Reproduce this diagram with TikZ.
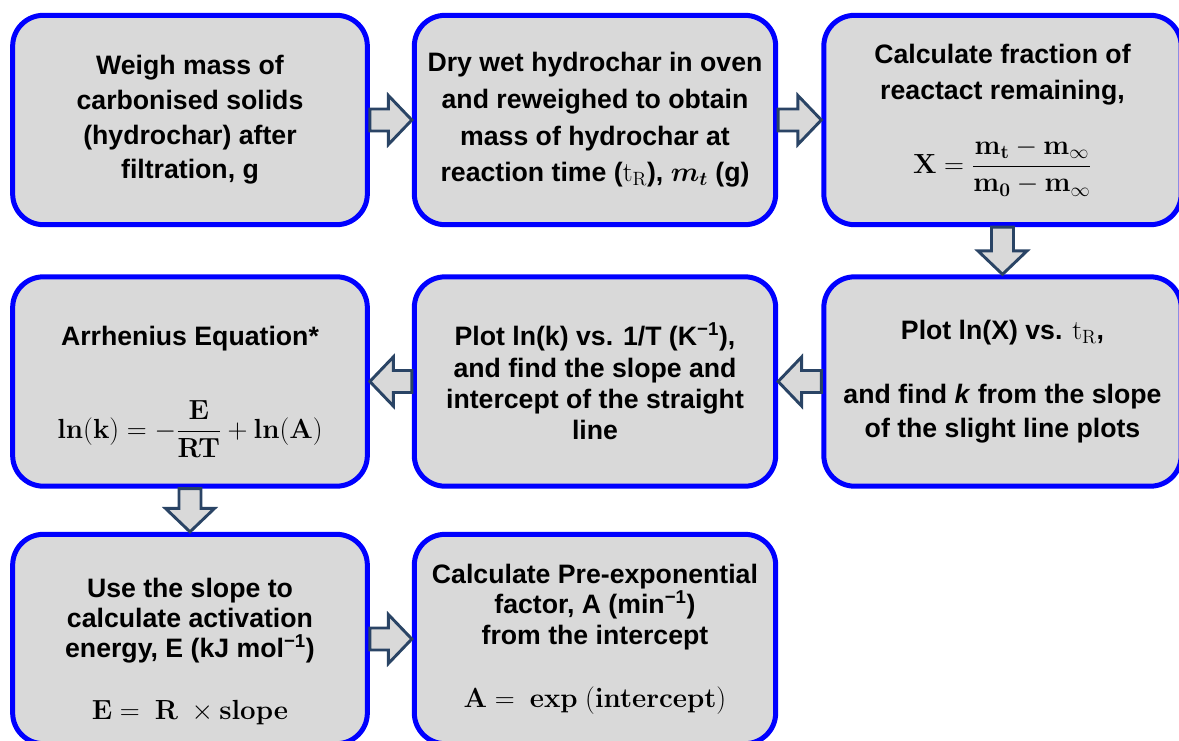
\documentclass[tikz,border=0pt]{standalone}
\usepackage{amsmath}
\usepackage[no-math]{fontspec}
\setmainfont{Liberation Sans}
\usetikzlibrary{calc,positioning}
\definecolor{boxfill}{HTML}{D9D9D9}
\definecolor{boxline}{HTML}{0000FF}
\definecolor{edge}{HTML}{2A4465}
\tikzset{
  stage/.style={draw=boxline,fill=boxfill,line width=3.75pt,rounded corners=23pt,align=center,
    text=black,inner sep=4pt,minimum width=#1,minimum height=157pt,font=\fontsize{20}{26}\selectfont\bfseries},
  fat/.style={draw=edge,fill=boxfill,line width=2.2pt,line join=miter,
    to path={let \p1=(\tikztostart), \p2=(\tikztotarget),
      \n1={atan2(\y2-\y1,\x2-\x1)}, \n2={veclen(\x2-\x1,\y2-\y1)}, \n3={\n2-17.6pt} in
      (\p1) ++(\n1+90:8.25pt) -- ++(\n1:\n3) -- ++(\n1+90:10.15pt) -- (\p2)
      -- ($(\p2)+(\n1+180:17.6pt)+(\n1-90:18.4pt)$) -- ++(\n1+90:10.15pt)
      -- ++(\n1+180:\n3) -- cycle}},
}
\begin{document}
\begin{tikzpicture}[x=0.75pt,y=-0.75pt]
    \useasboundingbox (0,0) rectangle (1179,740);
    \clip (0,0) rectangle (1179,740);
    % first row
    \node[stage=266pt] (weigh) at (190,120) {Weigh mass of\\carbonised solids\\(hydrochar) after\\filtration, g};
    \node[stage=271pt,font=\fontsize{20}{27.5}\selectfont\bfseries] (dry) at (595,120)
      {Dry wet hydrochar in oven\\and reweighed to obtain\\mass of hydrochar at\\reaction time ($\mathrm{t}_{\mathrm{R}}$), {\boldmath$m_t$} (g)};
    \node[stage=268pt,font=\fontsize{20}{27}\selectfont\bfseries] (frac) at (1002.5,120)
      {Calculate fraction of\\reactact remaining,\\[24pt]
       $\mathbf{X}=\dfrac{\mathbf{m}_{\mathbf{t}}-\mathbf{m}_{\infty}}{\mathbf{m}_{\mathbf{0}}-\mathbf{m}_{\infty}}$};
    % second row
    \node[stage=268pt] (plotx) at (1002.5,381.5)
      {Plot ln(X) vs. $\mathrm{t}_{\mathrm{R}}$,\\[22pt]and find \textit{k} from the slope\\of the slight line plots};
    \node[stage=271pt,font=\fontsize{20}{23.5}\selectfont\bfseries] (plotk) at (595,381.5)
      {Plot ln(k) vs. 1/T (K\textsuperscript{−1}),\\and find the slope and\\intercept of the straight\\line};
    \node[stage=266pt] (arrh) at (190,381.5)
      {\rule{0pt}{30pt}Arrhenius Equation*\\[36pt]
       $\mathbf{ln}(\mathbf{k})=-\dfrac{\mathbf{E}}{\mathbf{RT}}+\mathbf{ln}(\mathbf{A})$};
    % third row
    \node[stage=266pt,font=\fontsize{20}{22.5}\selectfont\bfseries] (energy) at (190,639)
      {\rule{0pt}{34pt}Use the slope to\\calculate activation\\energy, E (kJ mol\textsuperscript{−1})\\[24pt]
       $\mathbf{E}=\ \mathbf{R}\ \times\mathbf{slope}$};
    \node[stage=271pt,font=\fontsize{20}{23}\selectfont\bfseries] (pre) at (595,639)
      {Calculate Pre-exponential\\factor, A (min\textsuperscript{−1})\\from the intercept\\[24pt]
       $\mathbf{A}=\ \mathbf{exp}\ (\mathbf{intercept})$};
    % block arrows
    \draw[fat] (weigh.east) to (dry.west);
    \draw[fat] (dry.east) to (frac.west);
    \draw[fat] (frac.south) to (plotx.north);
    \draw[fat] (plotx.west) to (plotk.east);
    \draw[fat] (plotk.west) to (arrh.east);
    \draw[fat] (arrh.south) to (energy.north);
    \draw[fat] (energy.east) to (pre.west);
\end{tikzpicture}
\end{document}
